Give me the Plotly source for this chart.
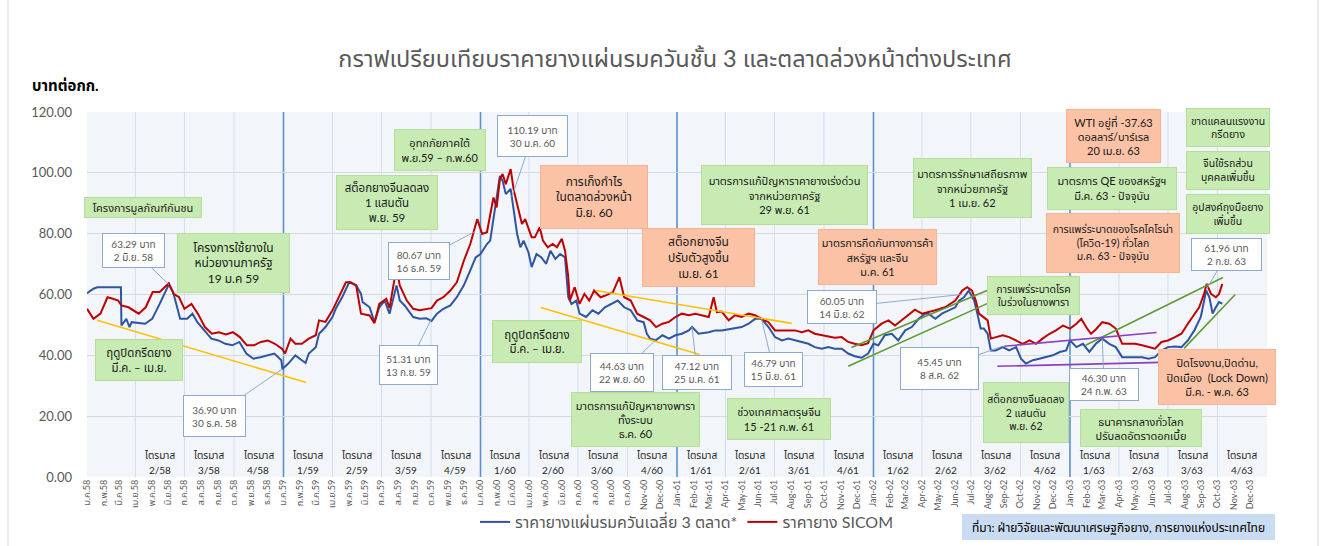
import pandas as pd
import plotly.graph_objects as go

# ---------------- data ----------------
blue_dates = [
    "2015-01-01","2015-01-13","2015-01-20","2015-03-05","2015-03-06","2015-03-15","2015-03-21","2015-03-25",
    "2015-04-19","2015-05-02","2015-05-16","2015-06-02","2015-06-10","2015-06-17","2015-06-23","2015-07-06",
    "2015-07-16","2015-07-25","2015-08-07","2015-08-20","2015-09-02","2015-09-15","2015-09-28","2015-10-11",
    "2015-10-24","2015-11-06","2015-11-19","2015-12-02","2015-12-15","2015-12-28","2015-12-30",
    "2016-01-10","2016-01-23","2016-02-04","2016-02-11","2016-02-17","2016-03-01","2016-03-07","2016-03-19",
    "2016-04-01","2016-04-07","2016-04-19","2016-05-02","2016-05-15","2016-05-24","2016-05-27","2016-06-09",
    "2016-06-18","2016-06-27","2016-07-07","2016-07-16","2016-07-29","2016-08-04","2016-08-13","2016-08-29",
    "2016-09-10","2016-09-22","2016-10-02","2016-10-12","2016-10-24","2016-11-06","2016-11-18","2016-12-01",
    "2016-12-13","2016-12-23",
    "2017-01-01","2017-01-13","2017-01-19","2017-01-25","2017-01-31","2017-02-06","2017-02-11","2017-02-17",
    "2017-02-26","2017-03-04","2017-03-10","2017-03-16","2017-03-22","2017-03-31","2017-04-06","2017-04-15",
    "2017-04-24","2017-05-03","2017-05-11","2017-05-20","2017-05-29","2017-06-07","2017-06-13","2017-06-19",
    "2017-06-28","2017-07-04","2017-07-16","2017-07-28","2017-08-08","2017-08-20","2017-09-01","2017-09-13",
    "2017-09-25","2017-10-07","2017-10-19","2017-10-31","2017-11-06","2017-11-12","2017-11-23","2017-12-05",
    "2017-12-17","2017-12-29",
    "2018-01-10","2018-01-23","2018-01-29","2018-02-10","2018-03-01","2018-03-13","2018-03-25","2018-04-13",
    "2018-05-01","2018-05-14","2018-05-26","2018-06-07","2018-06-20","2018-07-02","2018-07-15","2018-07-27",
    "2018-08-08","2018-08-21","2018-09-02","2018-09-14","2018-09-27","2018-10-09","2018-10-21","2018-11-03",
    "2018-11-15","2018-11-27","2018-12-10","2018-12-22",
    "2019-01-01","2019-01-10","2019-01-22","2019-02-04","2019-02-16","2019-03-01","2019-03-13","2019-03-26",
    "2019-04-07","2019-04-13","2019-04-26","2019-05-08","2019-05-21","2019-06-02","2019-06-09","2019-06-18",
    "2019-06-27","2019-07-07","2019-07-13","2019-07-19","2019-07-25","2019-08-01","2019-08-07","2019-08-16",
    "2019-08-29","2019-09-10","2019-09-23","2019-10-02","2019-10-11","2019-10-24","2019-11-05","2019-11-18",
    "2019-11-30","2019-12-13","2019-12-25",
    "2020-01-01","2020-01-13","2020-01-25","2020-02-06","2020-02-18","2020-03-01","2020-03-14","2020-03-26",
    "2020-04-07","2020-04-19","2020-05-01","2020-05-14","2020-05-26","2020-06-07","2020-06-19","2020-07-01",
    "2020-07-14","2020-07-26","2020-08-07","2020-08-19","2020-08-31","2020-09-10","2020-09-16","2020-09-22",
    "2020-09-28","2020-10-04","2020-10-10",
]
blue_values = [
    60.4,61.9,62.4,62.4,49.8,52.0,49.3,50.9,
    50.4,52.0,56.9,63.3,60.8,55.8,52.0,52.0,
    53.7,50.9,48.2,45.5,44.9,43.8,43.3,44.4,
    40.6,38.9,39.4,40.0,40.6,38.4,35.5,
    37.3,40.0,38.4,37.5,40.6,42.7,47.1,49.3,
    52.6,55.3,59.1,64.0,63.0,60.2,57.5,55.8,
    50.9,55.8,58.0,53.7,63.0,58.0,56.4,52.6,
    52.0,52.2,51.3,53.7,55.3,56.4,59.1,63.0,
    67.9,72.2,
    73.3,76.6,77.7,85.3,91.9,99.0,97.4,93.0,
    94.7,87.5,79.9,75.5,77.7,73.9,69.0,73.3,
    72.2,70.1,74.4,71.7,73.3,72.2,59.1,56.9,
    58.0,53.7,52.6,54.8,53.7,55.8,56.9,58.0,
    55.8,54.8,51.5,50.9,47.1,45.5,45.0,46.6,
    45.5,46.6,
    47.1,48.2,49.3,47.1,47.6,48.2,48.2,48.8,
    49.3,50.4,52.0,52.0,49.3,46.0,44.9,45.5,
    44.9,44.4,43.8,42.7,42.2,42.7,42.2,42.2,
    40.6,39.7,39.2,40.6,
    43.8,43.3,46.6,47.1,44.9,48.2,49.3,52.0,
    53.7,53.7,52.0,53.7,54.8,55.8,58.0,59.1,
    61.3,58.0,53.7,48.8,48.8,47.1,41.6,41.6,
    42.7,41.6,42.7,38.9,37.3,38.4,38.9,39.4,
    40.0,41.1,41.6,
    44.9,42.7,43.8,41.1,43.8,45.5,43.8,42.7,
    39.4,39.4,39.6,39.4,38.9,39.4,41.6,42.7,
    42.9,42.7,44.9,48.2,52.6,61.3,59.1,53.7,
    55.8,57.5,57.0,
]

red_dates = [
    "2015-01-01","2015-01-13","2015-01-26","2015-02-08","2015-02-18","2015-02-28","2015-03-06","2015-03-19",
    "2015-04-07","2015-04-20","2015-05-03","2015-05-16","2015-06-02","2015-06-11","2015-06-21","2015-07-01",
    "2015-07-14","2015-07-26","2015-08-08","2015-08-21","2015-09-03","2015-09-16","2015-09-29","2015-10-12",
    "2015-10-25","2015-11-07","2015-11-20","2015-12-03","2015-12-16","2015-12-29",
    "2016-01-04","2016-01-14","2016-01-23","2016-02-04","2016-02-17","2016-03-01","2016-03-07","2016-03-19",
    "2016-04-01","2016-04-13","2016-04-26","2016-05-05","2016-05-15","2016-05-24","2016-06-09","2016-06-18",
    "2016-06-27","2016-07-10","2016-07-16","2016-07-29","2016-08-04","2016-08-17","2016-08-29","2016-09-10",
    "2016-09-23","2016-10-02","2016-10-12","2016-10-24","2016-11-06","2016-11-18","2016-12-01","2016-12-13",
    "2016-12-26",
    "2017-01-04","2017-01-13","2017-01-19","2017-01-25","2017-01-31","2017-02-06","2017-02-11","2017-02-17",
    "2017-02-26","2017-03-04","2017-03-13","2017-03-19","2017-03-25","2017-03-31","2017-04-06","2017-04-12",
    "2017-04-21","2017-04-27","2017-05-06","2017-05-15","2017-05-23","2017-06-01","2017-06-07","2017-06-13",
    "2017-06-16","2017-06-25","2017-07-04","2017-07-13","2017-07-22","2017-07-31","2017-08-12","2017-08-23",
    "2017-09-04","2017-09-16","2017-09-25","2017-10-07","2017-10-19","2017-10-31","2017-11-12","2017-11-23",
    "2017-12-05","2017-12-17","2017-12-29",
    "2018-01-10","2018-01-23","2018-02-04","2018-02-16","2018-03-01","2018-03-10","2018-03-16","2018-03-25",
    "2018-04-07","2018-04-19","2018-05-01","2018-05-14","2018-05-26","2018-06-07","2018-06-20","2018-07-02",
    "2018-07-15","2018-07-27","2018-08-08","2018-08-21","2018-09-02","2018-09-14","2018-09-27","2018-10-09",
    "2018-10-21","2018-11-03","2018-11-15","2018-11-27","2018-12-10","2018-12-22",
    "2019-01-01","2019-01-16","2019-01-29","2019-02-10","2019-02-22","2019-03-07","2019-03-19","2019-04-01",
    "2019-04-13","2019-04-26","2019-05-14","2019-06-02","2019-06-15","2019-06-24","2019-07-03","2019-07-10",
    "2019-07-16","2019-07-25","2019-08-01","2019-08-07","2019-08-16","2019-08-29","2019-09-10","2019-09-23",
    "2019-10-05","2019-10-18","2019-10-30","2019-11-11","2019-11-24","2019-12-06","2019-12-19",
    "2020-01-01","2020-01-13","2020-01-22","2020-01-31","2020-02-09","2020-02-18","2020-03-01","2020-03-14",
    "2020-03-26","2020-04-07","2020-04-19","2020-05-01","2020-05-14","2020-05-26","2020-06-07","2020-06-19",
    "2020-07-01","2020-07-14","2020-07-26","2020-08-07","2020-08-19","2020-08-28","2020-09-06","2020-09-11",
    "2020-09-19","2020-09-28","2020-10-04","2020-10-10",
]
red_values = [
    55.3,52.0,53.7,59.1,58.6,58.0,56.4,55.8,
    53.7,55.8,60.8,60.8,63.7,60.2,59.1,55.3,
    56.9,53.7,49.3,47.1,47.6,46.9,47.6,46.0,
    43.3,43.3,44.4,44.9,43.8,42.2,
    40.6,45.5,43.8,43.8,45.5,46.6,51.5,51.0,
    54.8,59.1,64.0,64.0,63.0,53.7,53.1,50.6,
    56.9,58.6,55.5,68.9,63.0,58.0,55.3,54.8,
    55.3,55.5,58.0,59.1,61.3,64.0,71.1,76.6,
    84.8,
    79.9,80.5,86.5,91.9,88.6,97.9,99.6,96.3,
    101.2,94.1,87.5,83.2,84.8,82.1,78.8,78.8,
    82.1,77.7,75.5,76.6,75.5,78.3,74.4,65.7,
    58.0,62.4,56.9,60.2,58.0,61.3,59.1,59.8,
    60.8,65.7,59.1,58.0,53.7,52.6,51.5,49.3,
    50.4,51.0,52.6,
    53.7,53.2,53.7,53.2,52.6,59.1,54.2,54.4,
    51.5,53.2,52.6,53.7,53.2,52.0,50.9,48.2,
    48.2,48.2,48.2,47.6,48.2,47.1,46.6,46.3,
    45.8,46.0,44.4,43.8,43.3,44.0,
    48.2,50.4,51.5,49.8,51.5,53.5,55.0,53.7,
    54.2,54.8,55.8,58.0,61.3,62.4,61.3,58.0,
    53.7,52.6,51.5,45.5,46.0,46.6,46.0,44.9,
    43.8,44.9,43.8,45.5,47.1,48.2,49.8,
    48.8,50.4,52.0,49.3,47.1,48.5,50.9,50.4,
    48.8,43.8,43.8,43.8,43.3,42.7,42.2,44.4,
    44.9,46.0,47.1,50.4,53.7,55.8,60.2,63.5,
    60.2,59.1,60.2,63.5,
]

series_names = ["ราคายางแผ่นรมควันเฉลี่ย 3 ตลาด*", "ราคายาง SICOM"]

month_th = ["ม.ค.", "ก.พ.", "มี.ค.", "เม.ย.", "พ.ค.", "มิ.ย.", "ก.ค.", "ส.ค.", "ก.ย.", "ต.ค.", "พ.ย.", "ธ.ค."]
month_en = ["Jan", "Feb", "Mar", "Apr", "May", "Jun", "Jul", "Aug", "Sep", "Oct", "Nov", "Dec"]
tick_dates = list(pd.date_range("2015-01-01", "2020-12-01", freq="MS"))
tick_labels = []
for d in tick_dates:
    be = (d.year + 543) % 100
    if d < pd.Timestamp("2017-11-01"):
        tick_labels.append(f"{month_th[d.month - 1]}{be}")
    else:
        tick_labels.append(f"{month_en[d.month - 1]}-{be}")

quarter_starts = list(pd.date_range("2015-04-01", "2020-10-01", freq="QS"))
quarter_labels = [f"{(q.month - 1) // 3 + 1}/{(q.year + 543) % 100}" for q in quarter_starts]

# ---------------- layout helpers ----------------
FONT = "Lato, 'Noto Sans Thai', 'Noto Sans', 'DejaVu Sans', sans-serif"
W, H = 1329, 546
X0, X1, Y0, Y1 = 87, 1267, 112, 477
XMIN, XMAX = pd.Timestamp("2015-01-01"), pd.Timestamp("2021-01-01")
YMAX = 120.0

def px(x):
    return (x - X0) / (X1 - X0)

def py(y):
    return (Y1 - y) / (Y1 - Y0)

def pix_date(x):
    t = XMIN + (XMAX - XMIN) * ((x - X0) / (X1 - X0))
    return t.strftime("%Y-%m-%d %H:%M")

def pix_val(y):
    return (Y1 - y) / (Y1 - Y0) * YMAX

fig = go.Figure()
fig.add_trace(go.Scatter(x=blue_dates, y=blue_values, mode="lines", name=series_names[0],
                         line=dict(color="#2f54a0", width=2)))
fig.add_trace(go.Scatter(x=red_dates, y=red_values, mode="lines", name=series_names[1],
                         line=dict(color="#c00000", width=2)))

shapes = []
for q in pd.date_range("2015-04-01", "2020-10-01", freq="QS"):
    is_year = q.month == 1
    shapes.append(dict(type="line", xref="x", yref="y", x0=q, x1=q, y0=0, y1=YMAX, layer="below",
                       line=dict(color="#5b8fd0" if is_year else "#d3deec", width=1.6 if is_year else 1)))

trend_lines = [
    ("2015-01-20", 51.5, "2016-02-12", 31.1, "#ffc000"),
    ("2017-04-23", 55.7, "2018-02-12", 40.3, "#ffc000"),
    ("2017-08-03", 61.3, "2018-08-02", 50.5, "#ffc000"),
    ("2018-11-21", 42.6, "2019-07-31", 61.3, "#5f9a38"),
    ("2018-11-15", 36.4, "2019-07-31", 57.0, "#5f9a38"),
    ("2020-01-30", 43.3, "2020-10-11", 65.6, "#5f9a38"),
    ("2020-07-31", 42.3, "2020-11-03", 60.0, "#5f9a38"),
    ("2019-09-01", 43.0, "2020-06-10", 47.5, "#8e3fbf"),
    ("2019-08-19", 36.4, "2020-06-19", 37.7, "#8e3fbf"),
]
for xa, ya, xb, yb, c in trend_lines:
    shapes.append(dict(type="line", xref="x", yref="y", x0=xa, y0=ya, x1=xb, y1=yb,
                       line=dict(color=c, width=1.6)))

for xx in (8, 1318):
    shapes.append(dict(type="line", xref="paper", yref="paper", x0=px(xx), x1=px(xx),
                       y0=py(0), y1=py(H), line=dict(color="#d9d9d9", width=1)))

annotations = []

GREEN, GREEN_B = "#c8ebb3", "#b3dd98"
ORANGE, ORANGE_B = "#fbc2a6", "#f6b295"

boxes = [
    ("โครงการมูลภัณฑ์กันชน", 143, 207.5, 118, 21, "g", 11),
    ("โครงการใช้ยางใน<br>หน่วยงานภาครัฐ<br>19 ม.ค 59", 233.5, 263, 113, 60, "g", 12),
    ("ฤดูปิดกรีดยาง<br>มี.ค. – เม.ย.", 139, 360, 88, 42, "g", 11.5),
    ("อุทกภัยภาคใต้<br>พ.ย.59 – ก.พ.60", 440, 150, 92, 42, "g", 11),
    ("สต็อกยางจีนลดลง<br>1 แสนตัน<br>พ.ย. 59", 387, 202.5, 102, 55, "g", 11.5),
    ("การเก็งกำไร<br>ในตลาดล่วงหน้า<br>มิ.ย. 60", 594, 197, 108, 64, "o", 12),
    ("มาตรการแก้ปัญหาราคายางเร่งด่วน<br>จากหน่วยภาครัฐ<br>29 พ.ย. 61", 784.5, 195, 167, 60, "g", 11),
    ("สต็อกยางจีน<br>ปรับตัวสูงขึ้น<br>เม.ย. 61", 698.5, 257.5, 113, 59, "o", 12),
    ("มาตรการกีดกันทางการค้า<br>สหรัฐฯ และจีน<br>ม.ค. 61", 877, 257, 119, 56, "o", 11),
    ("ฤดูปิดกรีดยาง<br>มี.ค. – เม.ย.", 537, 341.5, 90, 43, "g", 11.5),
    ("มาตรการแก้ปัญหายางพารา<br>ทั้งระบบ<br>ธ.ค. 60", 635, 419.5, 129, 55, "g", 11),
    ("ช่วงเทศกาลตรุษจีน<br>15 -21 ก.พ. 61", 779, 419, 104, 42, "g", 11),
    ("มาตรการรักษาเสถียรภาพ<br>จากหน่วยภาครัฐ<br>1 เม.ย. 62", 972.5, 188, 119, 60, "g", 11),
    ("WTI อยู่ที่ -37.63<br>ดอลลาร์/บาร์เรล<br>20 เม.ย. 63", 1113.5, 136, 95, 54, "o", 11),
    ("มาตรการ QE ของสหรัฐฯ<br>มี.ค. 63 - ปัจจุบัน", 1112, 188.5, 130, 43, "g", 11),
    ("การแพร่ระบาดของโรคโคโรน่า<br>(โควิด-19) ทั่วโลก<br>ม.ค. 63 - ปัจจุบัน", 1113, 243, 134, 60, "o", 10.5),
    ("ขาดแคลนแรงงาน<br>กรีดยาง", 1228, 127.5, 84, 39, "g", 10.5),
    ("จีนใช้รถส่วน<br>บุคคลเพิ่มขึ้น", 1228, 170.5, 84, 39, "g", 10.5),
    ("อุปสงค์ถุงมือยาง<br>เพิ่มขึ้น", 1228, 214, 84, 40, "g", 10.5),
    ("การแพร่ระบาดโรค<br>ใบร่วงในยางพารา", 1033.5, 295.5, 93, 39, "g", 10.5),
    ("สต็อกยางจีนลดลง<br>2 แสนตัน<br>พ.ย. 62", 1026, 412.5, 86, 61, "g", 10.5),
    ("ปิดโรงงาน,ปิดด่าน,<br>ปิดเมือง  (Lock Down)<br>มี.ค. - พ.ค. 63", 1217, 377, 118, 56, "o", 11),
    ("ธนาคารกลางทั่วโลก<br>ปรับลดอัตราดอกเบี้ย", 1141, 428, 122, 38, "g", 11),
]
for text, cx, cy, w, h, kind, fs in boxes:
    bg, bd = (GREEN, GREEN_B) if kind == "g" else (ORANGE, ORANGE_B)
    annotations.append(dict(text=text, xref="paper", yref="paper", x=px(cx), y=py(cy),
                            xanchor="center", yanchor="middle", showarrow=False,
                            width=w - 4, height=h - 4, borderpad=1, bgcolor=bg,
                            bordercolor=bd, borderwidth=1, align="center", valign="middle",
                            font=dict(family=FONT, size=fs, color="#1a1a1a")))

callouts = [
    ("63.29 บาท<br>2 มิ.ย. 58", 133.5, 250.5, 63, 35, "2015-06-02", 63.3),
    ("36.90 บาท<br>30 ธ.ค. 58", 214, 416, 63, 42, "2015-12-30", 35.5),
    ("80.67 บาท<br>16 ธ.ค. 59", 419, 261, 62, 38, "2016-12-22", 80.7),
    ("51.31 บาท<br>13 ก.ย. 59", 408.5, 365, 59, 40, "2016-10-02", 52.0),
    ("110.19 บาท<br>30 ม.ค. 60", 532.5, 136, 71, 42, "2017-02-28", 92.0),
    ("44.63 บาท<br>22 พ.ย. 60", 622, 372.5, 64, 39, "2017-11-22", 45.0),
    ("47.12 บาท<br>25 ม.ค. 61", 697, 372.5, 70, 35, "2018-01-29", 49.3),
    ("46.79 บาท<br>15 มิ.ย. 61", 773.5, 369.5, 59, 35, "2018-06-07", 52.0),
    ("60.05 บาท<br>14 มิ.ย. 62", 842, 307, 70, 34, "2019-06-14", 60.0),
    ("61.96 บาท<br>2 ก.ย. 63", 1226.5, 254.5, 71, 33, "2020-09-10", 61.5),
    ("45.45 บาท<br>8 ส.ค. 62", 939.5, 368.5, 79, 43, "2019-08-29", 43.0),
    ("46.30 บาท<br>24 ก.พ. 63", 1104, 384.5, 70, 33, "2020-03-01", 45.5),
]
for text, cx, cy, w, h, tx, tv in callouts:
    annotations.append(dict(text=text, xref="x", yref="y", x=tx, y=tv,
                            axref="x", ayref="y", ax=pix_date(cx), ay=pix_val(cy),
                            showarrow=True, arrowhead=0, arrowwidth=1, arrowcolor="#8eaacb",
                            width=w - 4, height=h - 4, borderpad=1, bgcolor="#ffffff",
                            bordercolor="#8eaacb", borderwidth=1, align="center", valign="middle",
                            font=dict(family=FONT, size=10, color="#595959")))

for q, lab in zip(quarter_starts, quarter_labels):
    mid = q + pd.Timedelta(days=45)
    annotations.append(dict(text="ไตรมาส", xref="x", yref="y", x=mid, y=pix_val(455),
                            showarrow=False, font=dict(family=FONT, size=10, color="#262626")))
    annotations.append(dict(text=lab, xref="x", yref="y", x=mid, y=pix_val(470),
                            showarrow=False, font=dict(family=FONT, size=10, color="#262626")))

annotations.append(dict(text="<b>บาทต่อกก.</b>", xref="paper", yref="paper", x=px(30), y=py(85),
                        xanchor="left", yanchor="middle", showarrow=False,
                        font=dict(family=FONT, size=15, color="#000000")))
annotations.append(dict(text="ที่มา: ฝ่ายวิจัยและพัฒนาเศรษฐกิจยาง, การยางแห่งประเทศไทย",
                        xref="paper", yref="paper", x=px(1118.5), y=py(527),
                        xanchor="center", yanchor="middle", showarrow=False,
                        width=309, height=22, borderpad=1, bgcolor="#c9dcf1",
                        bordercolor="#c9dcf1", font=dict(family=FONT, size=12, color="#000000")))

fig.update_layout(
    width=W, height=H,
    margin=dict(l=X0, r=W - X1, t=Y0, b=H - Y1, autoexpand=False),
    paper_bgcolor="#ffffff", plot_bgcolor="#f2f6fb",
    font=dict(family=FONT, color="#595959"),
    title=dict(text="กราฟเปรียบเทียบราคายางแผ่นรมควันชั้น 3 และตลาดล่วงหน้าต่างประเทศ",
               x=675 / W, xanchor="center", y=1 - 59 / H, yanchor="middle",
               font=dict(family=FONT, size=23.5, color="#595959")),
    xaxis=dict(type="date", range=[XMIN, XMAX], tickmode="array", tickvals=tick_dates,
               ticktext=tick_labels, tickangle=-90, tickfont=dict(size=9, color="#595959"),
               showgrid=False, zeroline=False, showline=False, ticks="", automargin=False),
    yaxis=dict(range=[0, YMAX], dtick=20, tickformat=".2f", gridcolor="#d9d9d9",
               zeroline=False, showline=False, tickfont=dict(size=13, color="#595959"),
               ticklabelstandoff=14, automargin=False),
    legend=dict(orientation="h", x=px(475), xanchor="left", y=py(522), yanchor="middle",
                font=dict(family=FONT, size=16, color="#595959"), bgcolor="rgba(0,0,0,0)"),
    shapes=shapes, annotations=annotations,
    showlegend=True,
)

fig.write_html("out.html", config={"displayModeBar": False},
               post_script="document.body.style.margin='0';")
